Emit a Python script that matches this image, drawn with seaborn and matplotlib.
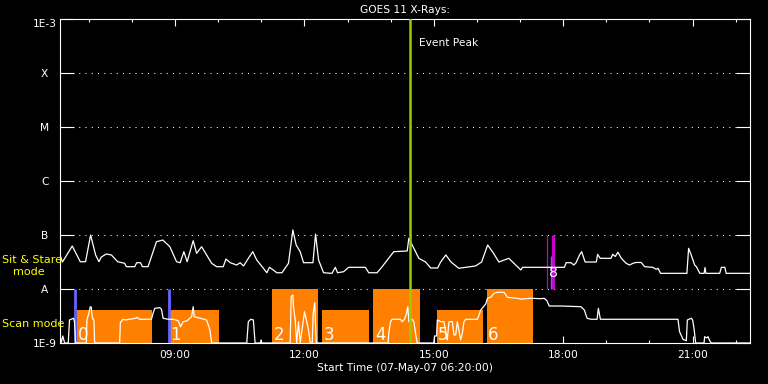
import matplotlib
matplotlib.use('Agg')
import matplotlib.pyplot as plt
import matplotlib.ticker as mticker
import seaborn as sns

# GOES 11 flux, sit & stare panel (hours of 07-May-07, W/m^2)
ss_hours = [6.333, 6.39, 6.617, 6.803, 6.926, 7.043, 7.159, 7.236, 7.291, 7.408,
            7.524, 7.671, 7.833, 7.873, 8.066, 8.112, 8.20, 8.245, 8.375, 8.570,
            8.717, 8.880, 9.036, 9.12, 9.205, 9.282, 9.422, 9.501, 9.617, 9.733,
            9.850, 9.966, 10.119, 10.182, 10.28, 10.43, 10.51, 10.59, 10.701, 10.803,
            10.896, 11.050, 11.129, 11.19, 11.28, 11.361, 11.48, 11.631, 11.733, 11.810,
            11.903, 11.980, 12.199, 12.259, 12.329, 12.445, 12.64, 12.717, 12.77, 12.91,
            13.026, 13.415, 13.492, 13.687, 13.803, 14.073, 14.385, 14.422, 14.578, 14.654,
            14.81, 14.93, 15.09, 15.16, 15.28, 15.40, 15.58, 15.97, 16.11, 16.25,
            16.37, 16.51, 16.74, 16.90, 17.02, 17.06, 17.83, 18.03, 18.07, 18.18,
            18.25, 18.30, 18.38, 18.43, 18.51, 18.77, 18.80, 18.86, 19.11, 19.15,
            19.21, 19.27, 19.35, 19.46, 19.54, 19.62, 19.69, 19.81, 19.89, 20.08,
            20.16, 20.20, 20.26, 20.87, 20.91, 20.97, 21.05, 21.09, 21.17, 21.27,
            21.29, 21.31, 21.63, 21.67, 21.75, 21.78, 22.33]
ss_flux = [4.27e-8, 3.16e-8, 6.25e-8, 3.20e-8, 3.20e-8, 1.0e-7, 4.27e-8, 3.20e-8, 3.91e-8, 4.45e-8,
           4.27e-8, 3.20e-8, 2.99e-8, 2.59e-8, 2.59e-8, 3.07e-8, 3.07e-8, 2.59e-8, 2.59e-8, 7.51e-8,
           8.08e-8, 6.07e-8, 3.20e-8, 3.07e-8, 4.91e-8, 3.20e-8, 7.84e-8, 4.58e-8, 6.07e-8, 4.27e-8,
           2.99e-8, 2.59e-8, 2.59e-8, 3.59e-8, 3.07e-8, 2.78e-8, 3.07e-8, 2.67e-8, 3.70e-8, 4.91e-8,
           3.44e-8, 2.42e-8, 2.00e-8, 2.52e-8, 2.25e-8, 2.00e-8, 2.00e-8, 2.99e-8, 1.24e-7, 6.53e-8,
           4.91e-8, 3.07e-8, 3.07e-8, 1.04e-7, 3.44e-8, 2.00e-8, 1.95e-8, 2.52e-8, 2.00e-8, 2.09e-8,
           2.52e-8, 2.52e-8, 2.00e-8, 2.00e-8, 2.59e-8, 4.91e-8, 5.06e-8, 8.68e-8, 4.91e-8, 3.70e-8,
           3.16e-8, 2.45e-8, 2.45e-8, 3.16e-8, 4.27e-8, 3.16e-8, 2.42e-8, 2.67e-8, 3.16e-8, 6.53e-8,
           4.8e-8, 3.16e-8, 3.70e-8, 2.78e-8, 2.25e-8, 2.52e-8, 2.52e-8, 2.52e-8, 3.07e-8, 3.07e-8,
           2.78e-8, 3.07e-8, 4.27e-8, 4.91e-8, 3.16e-8, 3.16e-8, 4.39e-8, 3.70e-8, 3.70e-8, 4.39e-8,
           4.0e-8, 4.79e-8, 3.70e-8, 2.99e-8, 2.78e-8, 2.99e-8, 3.1e-8, 3.1e-8, 2.59e-8, 2.52e-8,
           2.32e-8, 2.42e-8, 1.95e-8, 1.95e-8, 5.67e-8, 4.27e-8, 2.78e-8, 2.59e-8, 1.95e-8, 1.95e-8,
           2.5e-8, 1.95e-8, 1.95e-8, 2.52e-8, 2.52e-8, 1.95e-8, 1.95e-8]

# scan mode panel curve
scan_hours = [6.333, 6.36, 6.398, 6.44, 6.524, 6.554, 6.647, 6.670, 6.694, 6.943,
              6.957, 7.003, 7.036, 7.06, 7.073, 7.096, 7.12, 7.136, 7.717, 7.733,
              7.794, 7.85, 8.089, 8.119, 8.182, 8.454, 8.491, 8.531, 8.647, 8.687,
              8.724, 8.840, 8.957, 9.073, 9.129, 9.189, 9.282, 9.385, 9.422, 9.445,
              9.733, 9.810, 9.850, 10.664, 10.700, 10.757, 10.817, 10.857, 10.98, 10.996,
              11.01, 11.671, 11.694, 11.733, 11.747, 11.787, 11.822, 11.863, 11.903, 12.003,
              12.043, 12.096, 12.136, 12.182, 12.205, 12.240, 12.275, 13.94, 13.957, 13.996,
              14.036, 14.229, 14.268, 14.322, 14.368, 14.399, 14.422, 14.500, 14.538, 14.578,
              14.617, 15.0, 15.020, 15.066, 15.082, 15.159, 15.236, 15.314, 15.352, 15.431,
              15.468, 15.508, 15.547, 15.624, 15.663, 15.700, 15.740, 16.012, 16.049, 16.089,
              16.152, 16.205, 16.245, 16.322, 16.398, 16.477, 16.631, 16.710, 16.942, 17.019,
              17.252, 17.485, 17.561, 17.624, 17.678, 17.949, 18.415, 18.492, 18.555, 18.647,
              18.787, 18.817, 18.864, 20.663, 20.700, 20.780, 20.857, 20.880, 20.973, 21.003,
              21.035, 21.073, 21.268, 21.282, 21.328, 21.361, 21.398, 21.438, 22.33]
scan_flux = [1.41e-9, 1.0e-9, 1.35e-9, 1.0e-9, 1.0e-9, 2.67e-9, 2.87e-9, 2.48e-9, 1.0e-9, 1.0e-9,
             2.67e-9, 3.55e-9, 4.70e-9, 4.6e-9, 3.30e-9, 2.75e-9, 2.67e-9, 1.0e-9, 1.0e-9, 2.38e-9,
             2.75e-9, 2.67e-9, 2.87e-9, 3.0e-9, 2.75e-9, 2.75e-9, 3.55e-9, 4.39e-9, 4.51e-9, 4.2e-9,
             2.87e-9, 2.75e-9, 2.75e-9, 2.59e-9, 2.0e-9, 2.48e-9, 2.59e-9, 3.07e-9, 4.70e-9, 3.07e-9,
             2.67e-9, 1.74e-9, 1.0e-9, 1.0e-9, 2.48e-9, 2.75e-9, 2.67e-9, 1.0e-9, 1.0e-9, 1.14e-9,
             1.0e-9, 1.0e-9, 7.20e-9, 7.74e-9, 4.70e-9, 2.67e-9, 1.0e-9, 2.48e-9, 1.0e-9, 3.80e-9,
             2.75e-9, 1.74e-9, 1.0e-9, 1.0e-9, 3.55e-9, 5.6e-9, 1.0e-9, 1.0e-9, 1.51e-9, 2.48e-9,
             2.75e-9, 2.75e-9, 2.48e-9, 2.75e-9, 3.55e-9, 4.70e-9, 2.48e-9, 2.75e-9, 2.48e-9, 1.51e-9,
             1.0e-9, 1.0e-9, 1.35e-9, 1.35e-9, 2.67e-9, 2.48e-9, 2.48e-9, 1.14e-9, 2.48e-9, 2.48e-9,
             1.41e-9, 1.41e-9, 2.48e-9, 1.14e-9, 1.51e-9, 2.48e-9, 2.75e-9, 2.75e-9, 3.30e-9, 4.08e-9,
             4.70e-9, 5.27e-9, 6.73e-9, 7.02e-9, 8.32e-9, 8.68e-9, 8.68e-9, 7.0e-9, 6.73e-9, 6.5e-9,
             6.73e-9, 6.61e-9, 6.73e-9, 6.07e-9, 4.84e-9, 4.84e-9, 4.70e-9, 4.08e-9, 2.87e-9, 2.75e-9,
             2.75e-9, 4.39e-9, 2.75e-9, 2.75e-9, 1.62e-9, 1.17e-9, 1.1e-9, 2.67e-9, 2.87e-9, 2.67e-9,
             1.87e-9, 1.0e-9, 1.0e-9, 1.31e-9, 1.24e-9, 1.31e-9, 1.1e-9, 1.0e-9, 1.0e-9]

# scan observations (orange blocks)
scan_start = [6.717, 8.857, 11.252, 12.415, 13.601, 15.066, 16.229]
scan_end = [8.461, 10.02, 12.322, 13.508, 14.671, 16.136, 17.299]
scan_top = [4.1e-9, 4.1e-9, 1e-8, 4.1e-9, 1e-8, 4.1e-9, 1e-8]
scan_labels = ['0', '1', '2', '3', '4', '5', '6']

scan_marks = [6.687, 8.850]
stare_thin = 17.617
stare_thick = 17.764
stare_blue = 17.724
stare_label = '8'
event_peak = 14.438

goes_ticks = [1e-9, 1e-8, 1e-7, 1e-6, 1e-5, 1e-4, 1e-3]
goes_labels = ['1E-9', 'A', 'B', 'C', 'M', 'X', '1E-3']
hour_ticks = [9, 12, 15, 18, 21]
t_start, t_end = 6 + 20 / 60, 22 + 20 / 60

ORANGE = '#ff8000'
BLUE = '#6464ff'
MAGENTA = '#cc00cc'
LIME = '#99cc00'
YELLOW = '#ffff00'

sns.set_theme(style='dark', rc={
    'figure.facecolor': 'black', 'axes.facecolor': 'black',
    'axes.edgecolor': 'white', 'axes.linewidth': 0.8,
    'text.color': 'white', 'axes.labelcolor': 'white',
    'xtick.color': 'white', 'ytick.color': 'white',
})
plt.rcParams['font.family'] = ['DejaVu Sans']

fig = plt.figure(figsize=(7.68, 3.84), dpi=100)
ax = fig.add_axes([60 / 768, 41 / 384, 690 / 768, 324 / 384])
ax.set_yscale('log')
ax.set_xlim(t_start, t_end)
ax.set_ylim(1e-9, 1e-3)

# scan blocks
for s, e, top, lab in zip(scan_start, scan_end, scan_top, scan_labels):
    ax.fill_between([s, e], 1e-9, top, color=ORANGE, lw=0, zorder=1)
    ax.annotate(lab, xy=(s, 1e-9), xytext=(1, 2.5), textcoords='offset points',
                ha='left', va='baseline', fontsize=12, color='white', zorder=7)

ax.vlines(scan_marks, 1e-9, 1e-8, color=BLUE, lw=2.0, zorder=3)
ax.vlines(stare_thin, 1e-8, 1e-7, color=MAGENTA, lw=0.9, zorder=3)
ax.vlines(stare_thick, 1e-8, 1e-7, color=MAGENTA, lw=2.2, zorder=3)
ax.vlines(stare_blue, 1e-8, 4.1e-8, color=BLUE, lw=1.0, zorder=3)

sns.lineplot(x=ss_hours, y=ss_flux, ax=ax, color='white', lw=0.9,
             estimator=None, sort=False, zorder=4)
sns.lineplot(x=scan_hours, y=scan_flux, ax=ax, color='white', lw=0.9,
             estimator=None, sort=False, zorder=4)

ax.annotate(stare_label, xy=(stare_thick, 2.0e-8), ha='center', va='center',
            fontsize=10, color='white', zorder=7)

ax.axvline(event_peak, color=LIME, lw=1.8, zorder=6)
ax.annotate('Event Peak', xy=(event_peak, 0.926), xycoords=('data', 'axes fraction'),
            xytext=(6.5, 0), textcoords='offset points', ha='left', va='center',
            fontsize=7.7, color='white')

# axes, ticks
ax.set_yticks(goes_ticks, goes_labels)
ax.yaxis.set_minor_locator(mticker.NullLocator())
ax.tick_params(axis='y', which='major', direction='in', length=10, width=0.8,
               left=True, right=True, pad=11, labelsize=7.7)
for lbl in ax.get_yticklabels():
    lbl.set_ha('center')
ax.get_yticklabels()[-1].set_va('top')

ax.set_xticks(hour_ticks, [f'{h:02d}:00' for h in hour_ticks])
ax.xaxis.set_minor_locator(mticker.MultipleLocator(1))
ax.tick_params(axis='x', which='major', direction='in', length=5, width=0.8,
               top=True, bottom=True, pad=5, labelsize=7.7)
ax.tick_params(axis='x', which='minor', direction='in', length=2.5, width=0.8,
               top=True, bottom=True)

ax.grid(False)
ax.grid(axis='y', which='major', color='white', linestyle=(0, (1, 5)), linewidth=0.75)
for sp in ax.spines.values():
    sp.set_visible(True)
    sp.set_color('white')

ax.set_title('GOES 11 X-Rays:', fontsize=7.7, pad=4, color='white')
ax.set_xlabel('Start Time (07-May-07 06:20:00)', fontsize=7.7, labelpad=2)
ax.set_ylabel('')

fig.text(2 / 768, 1 - 262.7 / 384, 'Sit & Stare', color=YELLOW, fontsize=8, va='baseline')
fig.text(13 / 768, 1 - 275 / 384, 'mode', color=YELLOW, fontsize=8, va='baseline')
fig.text(2 / 768, 1 - 326.7 / 384, 'Scan mode', color=YELLOW, fontsize=8, va='baseline')

fig.savefig('out.png', dpi=100, facecolor='black')
